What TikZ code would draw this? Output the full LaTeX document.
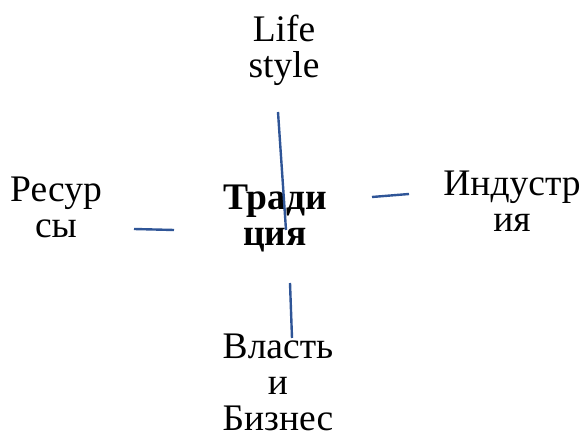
\documentclass[tikz,border=0pt]{standalone}
\usepackage{fontspec}
\setmainfont{Liberation Serif}
\usetikzlibrary{positioning}

\definecolor{spokeblue}{RGB}{47,85,151}

\begin{document}
\begin{tikzpicture}[x=1pt,y=-1pt,
    word/.style={align=center,inner sep=0pt,anchor=base,font=\fontsize{37.5}{36}\selectfont},
    spoke/.style={draw=spokeblue,line width=2.4pt}]
    \useasboundingbox (0,0) rectangle (584,435);

    % centre word
    \node[word,font=\fontsize{37.5}{36}\selectfont\bfseries] (trad) at (275,246) {Тради\\ция};

    % four words round it
    \node[word] (life)  at (284,78)  {Life\\style};
    \node[word] (res)   at (56,238)  {Ресур\\сы};
    \node[word] (ind)   at (512,232) {Индустр\\ия};
    \node[word] (power) at (278,431) {Власть\\и\\Бизнес};

    % loose strokes between them
    \coordinate (up1)    at (278,112);
    \coordinate (up2)    at (286,230);
    \coordinate (left1)  at (134,229);
    \coordinate (left2)  at (174,230);
    \coordinate (right1) at (372,197);
    \coordinate (right2) at (409,194);
    \coordinate (down1)  at (290,283);
    \coordinate (down2)  at (292,338);

    \draw[spoke] (up1) -- (up2);
    \draw[spoke] (left1) -- (left2);
    \draw[spoke] (right1) -- (right2);
    \draw[spoke] (down1) -- (down2);

\end{tikzpicture}
\end{document}
